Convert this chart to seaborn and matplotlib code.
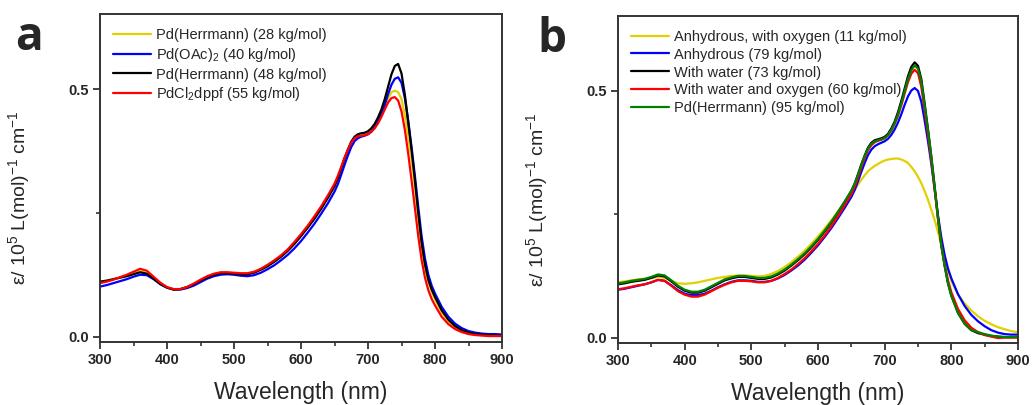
import numpy as np
import pandas as pd
import matplotlib
matplotlib.use("Agg")
import matplotlib.pyplot as plt
from matplotlib.ticker import MultipleLocator
import seaborn as sns

# ---------------- data ----------------
wavelength = ([300, 310, 320, 330, 340, 350, 360, 370, 380, 390, 400, 410, 420, 430, 440, 450,
               460, 470, 480, 490, 500, 510, 520, 530, 540, 550, 560, 570, 580, 590, 600, 610,
               620, 630, 640, 650]
              + [655, 660, 665, 670, 675, 680, 685, 690, 695, 700, 705, 710, 715, 720, 725, 730,
                 735, 740, 745, 750, 755, 760, 765, 770, 775, 780, 785, 790, 795, 800]
              + [810, 820, 830, 840, 850, 860, 870, 880, 890, 900])

# Panel a
a_labels = ["Pd(Herrmann) (28 kg/mol)", "Pd(OAc)$_2$ (40 kg/mol)",
            "Pd(Herrmann) (48 kg/mol)", "PdCl$_2$dppf (55 kg/mol)"]
a_yellow = [0.111, 0.113, 0.116, 0.120, 0.124, 0.128, 0.132, 0.128, 0.118, 0.107, 0.099, 0.095,
            0.096, 0.100, 0.107, 0.114, 0.121, 0.126, 0.129, 0.129, 0.128, 0.127, 0.127, 0.130,
            0.136, 0.143, 0.152, 0.162, 0.174, 0.188, 0.204, 0.221, 0.240, 0.260, 0.282, 0.306,
            0.322, 0.341, 0.360, 0.377, 0.392, 0.401, 0.405, 0.407, 0.408, 0.410, 0.415, 0.423,
            0.434, 0.448, 0.465, 0.482, 0.494, 0.497, 0.494, 0.480, 0.448, 0.405, 0.358, 0.302,
            0.240, 0.182, 0.141, 0.111, 0.091, 0.075,
            0.049, 0.031, 0.019, 0.011, 0.007, 0.004, 0.003, 0.002, 0.002, 0.002]
a_blue = [0.101, 0.104, 0.108, 0.112, 0.116, 0.121, 0.125, 0.124, 0.116, 0.106, 0.099, 0.095,
          0.095, 0.098, 0.103, 0.110, 0.117, 0.122, 0.125, 0.126, 0.125, 0.123, 0.122, 0.124,
          0.129, 0.136, 0.144, 0.154, 0.165, 0.178, 0.193, 0.210, 0.228, 0.248, 0.269, 0.293,
          0.308, 0.327, 0.347, 0.366, 0.383, 0.395, 0.401, 0.404, 0.406, 0.409, 0.414, 0.423,
          0.435, 0.450, 0.468, 0.490, 0.509, 0.521, 0.524, 0.513, 0.482, 0.436, 0.383, 0.325,
          0.262, 0.203, 0.158, 0.125, 0.103, 0.087,
          0.060, 0.040, 0.026, 0.017, 0.011, 0.008, 0.006, 0.005, 0.005, 0.004]
a_black = [0.111, 0.113, 0.116, 0.119, 0.122, 0.126, 0.130, 0.127, 0.117, 0.106, 0.099, 0.095,
           0.096, 0.100, 0.106, 0.113, 0.120, 0.125, 0.128, 0.128, 0.127, 0.126, 0.126, 0.129,
           0.135, 0.142, 0.151, 0.161, 0.173, 0.187, 0.203, 0.220, 0.238, 0.258, 0.280, 0.304,
           0.320, 0.340, 0.360, 0.378, 0.394, 0.404, 0.409, 0.411, 0.412, 0.415, 0.421, 0.430,
           0.443, 0.459, 0.480, 0.505, 0.530, 0.547, 0.551, 0.532, 0.489, 0.434, 0.378, 0.316,
           0.250, 0.190, 0.146, 0.115, 0.095, 0.080,
           0.053, 0.034, 0.021, 0.013, 0.008, 0.005, 0.004, 0.003, 0.002, 0.002]
a_red = [0.108, 0.111, 0.115, 0.120, 0.125, 0.131, 0.137, 0.133, 0.121, 0.109, 0.100, 0.096,
         0.096, 0.100, 0.107, 0.115, 0.122, 0.127, 0.130, 0.130, 0.129, 0.128, 0.128, 0.131,
         0.137, 0.145, 0.154, 0.164, 0.176, 0.191, 0.207, 0.224, 0.243, 0.263, 0.285, 0.309,
         0.325, 0.343, 0.362, 0.378, 0.392, 0.401, 0.405, 0.406, 0.407, 0.409, 0.414, 0.421,
         0.431, 0.444, 0.459, 0.473, 0.482, 0.484, 0.477, 0.455, 0.418, 0.370, 0.316, 0.260,
         0.203, 0.155, 0.119, 0.094, 0.076, 0.063,
         0.040, 0.025, 0.015, 0.009, 0.005, 0.003, 0.002, 0.001, 0.001, 0.001]

# Panel b
b_labels = ["Anhydrous, with oxygen (11 kg/mol)", "Anhydrous (79 kg/mol)",
            "With water (73 kg/mol)", "With water and oxygen (60 kg/mol)",
            "Pd(Herrmann) (95 kg/mol)"]
b_yellow = [0.112, 0.114, 0.116, 0.118, 0.119, 0.121, 0.123, 0.121, 0.115, 0.110, 0.109, 0.110,
            0.112, 0.115, 0.118, 0.121, 0.123, 0.125, 0.126, 0.126, 0.125, 0.124, 0.125, 0.129,
            0.135, 0.143, 0.153, 0.164, 0.176, 0.190, 0.205, 0.221, 0.238, 0.256, 0.273, 0.291,
            0.300, 0.310, 0.320, 0.329, 0.337, 0.343, 0.348, 0.352, 0.356, 0.359, 0.361, 0.362,
            0.363, 0.363, 0.361, 0.358, 0.354, 0.346, 0.337, 0.326, 0.313, 0.297, 0.279, 0.259,
            0.238, 0.214, 0.188, 0.161, 0.136, 0.115,
            0.087, 0.069, 0.055, 0.043, 0.034, 0.027, 0.021, 0.017, 0.013, 0.011]
b_blue = [0.097, 0.099, 0.102, 0.105, 0.108, 0.112, 0.117, 0.115, 0.106, 0.096, 0.089, 0.086,
          0.086, 0.089, 0.095, 0.102, 0.108, 0.113, 0.116, 0.116, 0.115, 0.113, 0.113, 0.115,
          0.120, 0.127, 0.136, 0.146, 0.158, 0.172, 0.187, 0.204, 0.222, 0.242, 0.263, 0.285,
          0.299, 0.317, 0.336, 0.354, 0.370, 0.381, 0.388, 0.392, 0.395, 0.398, 0.403, 0.411,
          0.422, 0.436, 0.453, 0.472, 0.489, 0.501, 0.506, 0.500, 0.478, 0.440, 0.398, 0.352,
          0.300, 0.248, 0.203, 0.167, 0.140, 0.120,
          0.088, 0.064, 0.046, 0.033, 0.023, 0.015, 0.010, 0.007, 0.006, 0.006]
b_black = [0.108, 0.110, 0.113, 0.115, 0.117, 0.121, 0.126, 0.124, 0.114, 0.103, 0.095, 0.091,
           0.091, 0.095, 0.102, 0.109, 0.116, 0.120, 0.123, 0.123, 0.121, 0.119, 0.119, 0.122,
           0.128, 0.136, 0.146, 0.157, 0.169, 0.183, 0.198, 0.215, 0.233, 0.253, 0.275, 0.297,
           0.312, 0.331, 0.351, 0.369, 0.385, 0.395, 0.400, 0.402, 0.404, 0.407, 0.413, 0.424,
           0.438, 0.457, 0.480, 0.505, 0.530, 0.549, 0.558, 0.551, 0.524, 0.474, 0.422, 0.367,
           0.306, 0.243, 0.187, 0.145, 0.110, 0.085,
           0.050, 0.028, 0.015, 0.009, 0.006, 0.003, 0.002, 0.001, 0.001, 0.001]
b_red = [0.098, 0.100, 0.103, 0.106, 0.108, 0.112, 0.117, 0.115, 0.105, 0.094, 0.087, 0.083,
         0.083, 0.087, 0.094, 0.101, 0.107, 0.112, 0.115, 0.115, 0.114, 0.112, 0.112, 0.115,
         0.121, 0.129, 0.138, 0.149, 0.161, 0.175, 0.190, 0.207, 0.226, 0.246, 0.268, 0.291,
         0.306, 0.325, 0.345, 0.364, 0.380, 0.390, 0.396, 0.399, 0.401, 0.404, 0.410, 0.420,
         0.433, 0.450, 0.471, 0.495, 0.518, 0.535, 0.543, 0.536, 0.508, 0.460, 0.411, 0.358,
         0.300, 0.240, 0.188, 0.148, 0.116, 0.092,
         0.058, 0.035, 0.020, 0.011, 0.005, 0.002, -0.001, 0.000, 0.000, 0.000]
b_green = [0.110, 0.112, 0.115, 0.117, 0.119, 0.123, 0.128, 0.126, 0.116, 0.105, 0.097, 0.093,
           0.093, 0.097, 0.104, 0.111, 0.118, 0.122, 0.125, 0.125, 0.123, 0.121, 0.121, 0.124,
           0.130, 0.138, 0.148, 0.159, 0.171, 0.185, 0.200, 0.217, 0.235, 0.255, 0.276, 0.298,
           0.312, 0.330, 0.350, 0.368, 0.383, 0.393, 0.398, 0.400, 0.402, 0.405, 0.411, 0.421,
           0.435, 0.453, 0.475, 0.500, 0.524, 0.542, 0.552, 0.545, 0.520, 0.470, 0.420, 0.366,
           0.305, 0.242, 0.186, 0.146, 0.110, 0.085,
           0.050, 0.028, 0.015, 0.011, 0.007, 0.004, 0.002, 0.001, 0.001, 0.001]

a_colors = ["#e3d000", "#0000ff", "#000000", "#ff0000"]
b_colors = ["#e3d000", "#0000ff", "#000000", "#ff0000", "#008000"]

x_ticks = [300, 400, 500, 600, 700, 800, 900]
y_ticks = [0.0, 0.5]

# ---------------- style ----------------
sns.set_theme(style="ticks")
plt.rcParams["font.family"] = ["Liberation Sans", "DejaVu Sans"]
plt.rcParams["mathtext.fontset"] = "custom"
plt.rcParams["mathtext.rm"] = "Liberation Sans"
plt.rcParams["mathtext.it"] = "Liberation Sans:italic"
plt.rcParams["mathtext.bf"] = "Liberation Sans:bold"
plt.rcParams["mathtext.default"] = "regular"

fig = plt.figure(figsize=(10.34, 4.05), dpi=100)
ax_a = fig.add_axes([100 / 1034, 63 / 405, 402 / 1034, 328 / 405])
ax_b = fig.add_axes([618 / 1034, 62 / 405, 400 / 1034, 327 / 405])

ylabel = r"ε/ 10$^{5}$ L(mol)$^{-1}$ cm$^{-1}$"


def draw(ax, series, labels, colors, leg_anchor, spacing):
    frames = []
    for vals, lab in zip(series, labels):
        frames.append(pd.DataFrame({"wl": wavelength, "eps": vals, "series": lab}))
    df = pd.concat(frames, ignore_index=True)
    sns.lineplot(data=df, x="wl", y="eps", hue="series", hue_order=labels,
                 palette=dict(zip(labels, colors)), sort=False, estimator=None,
                 lw=1.6, ax=ax, legend=True)
    ax.set_xlim(300, 900)
    ax.set_ylim(-0.011, 0.652)
    ax.set_xticks(x_ticks)
    ax.set_yticks(y_ticks)
    ax.xaxis.set_minor_locator(MultipleLocator(50))
    ax.yaxis.set_minor_locator(MultipleLocator(0.25))
    ax.set_yticklabels(["0.0", "0.5"])
    ax.tick_params(axis="both", which="major", direction="out", length=5, width=1.2,
                   labelsize=10.5, pad=3, color="#222222")
    ax.tick_params(axis="both", which="minor", direction="out", length=3, width=1.1,
                   color="#222222")
    for lab in ax.get_xticklabels() + ax.get_yticklabels():
        lab.set_fontweight("bold")
    for sp in ax.spines.values():
        sp.set_linewidth(1.4)
        sp.set_color("#333333")
    ax.set_xlabel("Wavelength (nm)", fontsize=16.5, labelpad=10)
    ax.set_ylabel(ylabel, fontsize=14)
    ax.yaxis.set_label_coords(-0.17, 0.44)
    handles, labs = ax.get_legend_handles_labels()
    ax.legend(handles, labs, loc="upper left", bbox_to_anchor=leg_anchor, frameon=False,
              fontsize=10.5, handlelength=2.6, handletextpad=0.35, labelspacing=spacing,
              borderaxespad=0.2)


draw(ax_a, [a_yellow, a_blue, a_black, a_red], a_labels, a_colors, (0.01, 0.985), 0.27)
draw(ax_b, [b_yellow, b_blue, b_black, b_red, b_green], b_labels, b_colors, (0.01, 0.985), 0.27)

fig.text(15 / 1034, 1 - 50 / 405, "a", fontsize=33, fontweight="bold", family="Open Sans")
fig.text(537 / 1034, 1 - 52 / 405, "b", fontsize=33, fontweight="bold", family="Open Sans")

fig.savefig("out.png", dpi=100)
